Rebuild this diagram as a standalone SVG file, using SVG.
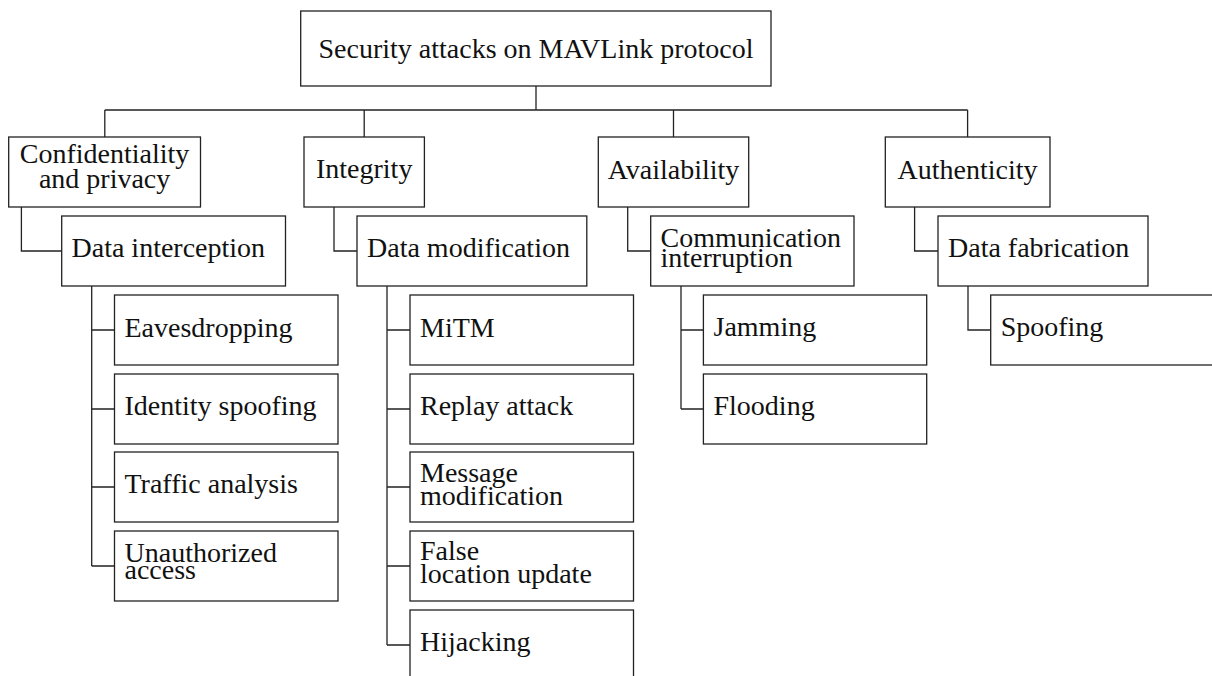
<svg xmlns="http://www.w3.org/2000/svg" width="1212" height="676" viewBox="0 0 1212 676">
<style>
.box{fill:#fff;stroke:#222;stroke-width:1.3}
.c{fill:none;stroke:#222;stroke-width:1.3}
text{font-family:"Liberation Serif","Times New Roman",serif;font-size:28px;fill:#111}
.m{text-anchor:middle}
</style>
<rect width="1212" height="676" fill="#fff"/>
<g id="connectors">
<path class="c" d="M536,86V110M104.8,110H967.6M104.8,110V137M364.2,110V137M673.5,110V137M967.6,110V137"/>
<path class="c" d="M21.4,207V251H61.7M334,207V251H357M627.7,207V251H650.7M914.6,207V251H938"/>
<path class="c" d="M91.7,286V566M91.7,330H114.5M91.7,409H114.5M91.7,487H114.5M91.7,566H114.5"/>
<path class="c" d="M387,286V645M387,330H410M387,409H410M387,487H410M387,566H410M387,645H410"/>
<path class="c" d="M681,286V409M681,330H703.4M681,409H703.4"/>
<path class="c" d="M968,286V330H990.7"/>
</g>
<g id="root"><rect class="box" x="300.7" y="11" width="470.3" height="75"/><text class="m" x="536" y="57.5">Security attacks on MAVLink protocol</text></g>
<g id="confidentiality"><rect class="box" x="8.7" y="137" width="191.8" height="70"/><text class="m" x="104.6" y="163">Confidentiality</text><text class="m" x="104.6" y="187.5">and privacy</text></g>
<g id="integrity"><rect class="box" x="304" y="137" width="120.4" height="70"/><text class="m" x="364.2" y="178">Integrity</text></g>
<g id="availability"><rect class="box" x="598.3" y="137" width="150.4" height="70"/><text class="m" x="673.5" y="178.5">Availability</text></g>
<g id="authenticity"><rect class="box" x="885.3" y="137" width="164.7" height="70"/><text class="m" x="967.6" y="178.5">Authenticity</text></g>
<g id="data-interception"><rect class="box" x="61.7" y="216" width="223.8" height="70"/><text x="71.5" y="257">Data interception</text></g>
<g id="data-modification"><rect class="box" x="357" y="216" width="229.8" height="70"/><text x="367" y="257">Data modification</text></g>
<g id="communication-interruption"><rect class="box" x="650.7" y="216" width="203.3" height="70"/><text x="660.5" y="247">Communication</text><text x="660.5" y="267">interruption</text></g>
<g id="data-fabrication"><rect class="box" x="938" y="216" width="210" height="70"/><text x="948" y="257">Data fabrication</text></g>
<g id="eavesdropping"><rect class="box" x="114.5" y="295" width="223.5" height="70"/><text x="124.5" y="336.5">Eavesdropping</text></g>
<g id="identity-spoofing"><rect class="box" x="114.5" y="374" width="223.5" height="70"/><text x="124.5" y="415">Identity spoofing</text></g>
<g id="traffic-analysis"><rect class="box" x="114.5" y="452" width="223.5" height="70"/><text x="124.5" y="493.3">Traffic analysis</text></g>
<g id="unauthorized-access"><rect class="box" x="114.5" y="531" width="223.5" height="70"/><text x="124.5" y="562.3">Unauthorized</text><text x="124.5" y="579">access</text></g>
<g id="mitm"><rect class="box" x="410" y="295" width="223.5" height="70"/><text x="420" y="336.5">MiTM</text></g>
<g id="replay-attack"><rect class="box" x="410" y="374" width="223.5" height="70"/><text x="420" y="415">Replay attack</text></g>
<g id="message-modification"><rect class="box" x="410" y="452" width="223.5" height="70"/><text x="420" y="481.7">Message</text><text x="420" y="505">modification</text></g>
<g id="false-location-update"><rect class="box" x="410" y="531" width="223.5" height="70"/><text x="420" y="560.3">False</text><text x="420" y="583">location update</text></g>
<g id="hijacking"><rect class="box" x="410" y="610" width="223.5" height="70"/><text x="420" y="651">Hijacking</text></g>
<g id="jamming"><rect class="box" x="703.4" y="295" width="223.3" height="70"/><text x="713.5" y="336">Jamming</text></g>
<g id="flooding"><rect class="box" x="703.4" y="374" width="223.3" height="70"/><text x="713.5" y="414.5">Flooding</text></g>
<g id="spoofing"><rect class="box" x="990.7" y="295" width="230" height="70"/><text x="1000.7" y="336">Spoofing</text></g>
</svg>
